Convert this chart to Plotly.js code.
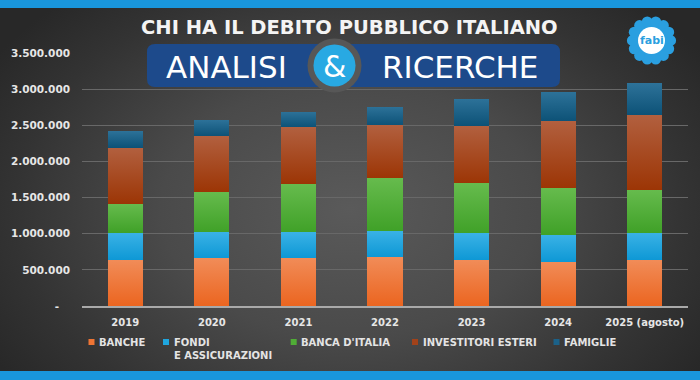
<!DOCTYPE html>
<html>
<head>
<meta charset="utf-8">
<script src="https://cdn.plot.ly/plotly-3.0.1.min.js"></script>
<style>
html,body{margin:0;padding:0;}
body{width:700px;height:380px;overflow:hidden;
background: radial-gradient(ellipse 60% 75% at 50% 55%, #5a5a5a 0%, #4a4a4a 45%, #333 80%, #282828 100%);}
#chart{width:700px;height:380px;}
</style>
</head>
<body>
<div id="chart"></div>
<script>
// ---- DATA ----
const categories = ['2019','2020','2021','2022','2023','2024','2025 (agosto)'];
const banche      = [637000, 660000, 669000, 678000, 637000, 614000, 637000];
const fondi       = [378000, 364000, 351000, 365000, 369000, 373000, 378000];
const bancaItalia = [397000, 554000, 669000, 725000, 692000, 647000, 591000];
const investitori = [779000, 775000, 784000, 733000, 794000, 927000, 1038000];
const famiglie    = [232000, 222000, 217000, 258000, 378000, 402000, 439000];
const seriesNames = ['BANCHE','FONDI<br>E ASSICURAZIONI',"BANCA D'ITALIA",'INVESTITORI ESTERI','FAMIGLIE'];
const yTickVals = [0,500000,1000000,1500000,2000000,2500000,3000000,3500000];
const yTickText = ['-\u00a0\u00a0\u00a0','500.000','1.000.000','1.500.000','2.000.000','2.500.000','3.000.000','3.500.000'];

// ---- STYLE ----
const seriesValues = [banche, fondi, bancaItalia, investitori, famiglie];
const colors = ['#ee7434','#1fa5de','#50ad36','#a2421a','#1b6188'];
const gradTop = ['#f18c58','#3ab2e6','#66bb4d','#b2603f','#2d7299'];
const gradBot = ['#eb6520','#0e98d5','#40a128','#9c3505','#0d5277'];

const W=700,H=380,ML=82,MR=12,MT=53,MB=74;
const PW=W-ML-MR, PH=H-MT-MB;
const X = p => (p-ML)/PW;
const Y = p => (H-MB-p)/PH;

const traces = seriesValues.map((v,i)=>({
  type:'bar', x:categories, y:v, name:seriesNames[i],
  marker:{color:colors[i], line:{width:0}}, hoverinfo:'skip'
}));

const shapes = [];
const annotations = [];
function rect(x0,y0,x1,y1,color){
  shapes.push({type:'rect',xref:'paper',yref:'paper',x0:X(x0),x1:X(x1),y0:Y(y0),y1:Y(y1),
    fillcolor:color,line:{width:0},layer:'above'});
}
function circ(cx,cy,r,color){
  shapes.push({type:'circle',xref:'paper',yref:'paper',x0:X(cx-r),x1:X(cx+r),y0:Y(cy-r),y1:Y(cy+r),
    fillcolor:color,line:{width:0},layer:'above'});
}
function ann(text,x,y,size,color,opts){
  annotations.push(Object.assign({text:text,xref:'paper',yref:'paper',x:X(x),y:Y(y),
    showarrow:false,xanchor:'center',yanchor:'middle',
    font:{family:'DejaVu Sans',size:size,color:color,weight:'bold'}},opts||{}));
}
// blue bands
rect(0,0,700,8,'#1996dc');
rect(0,371,700,380,'#1996dc');
// banner rounded rect
(function(){
  const x0=147,x1=560,y0=44,y1=87,r=8;
  const p = (x,y)=>X(x)+','+Y(y);
  const path = 'M'+p(x0+r,y0)+' L'+p(x1-r,y0)+' Q'+p(x1,y0)+' '+p(x1,y0+r)+
    ' L'+p(x1,y1-r)+' Q'+p(x1,y1)+' '+p(x1-r,y1)+' L'+p(x0+r,y1)+' Q'+p(x0,y1)+' '+p(x0,y1-r)+
    ' L'+p(x0,y0+r)+' Q'+p(x0,y0)+' '+p(x0+r,y0)+' Z';
  shapes.push({type:'path',xref:'paper',yref:'paper',path:path,fillcolor:'#1d4a8b',line:{width:0},layer:'above'});
})();
circ(334.5,65.5,27,'#575757');
circ(334.5,65.5,21,'#28a9e3');
ann('ANALISI',226,67,31,'#ffffff',{font:{family:'DejaVu Sans',size:31,color:'#ffffff',weight:'normal'}});
ann('RICERCHE',460,67,31,'#ffffff',{font:{family:'DejaVu Sans',size:31,color:'#ffffff',weight:'normal'}});
ann('&',334.5,66,30,'#ffffff',{font:{family:'DejaVu Sans',size:30,color:'#ffffff',weight:'normal'}});
// title
ann('CHI HA IL DEBITO PUBBLICO ITALIANO',349.5,28,19.5,'#f4f4f4');
// logo
(function(){
  const cx=651.5, cy=40.5, n=14;
  circ(cx,cy,17,'#2a9fe0');
  for(let k=0;k<n;k++){
    const a=2*Math.PI*k/n;
    circ(cx+19.2*Math.cos(a), cy+19.2*Math.sin(a), 5.4, '#2a9fe0');
  }
  circ(cx,cy,13.5,'#ffffff');
  ann('fabi',cx,cy,11,'#2a9fe0',{font:{family:'DejaVu Sans',size:11,color:'#2a9fe0',weight:'bold'}});
})();
// legend (custom)
const legendX = [88.5,163,290.7,412,553.5];
seriesNames.forEach((nm,i)=>{
  rect(legendX[i],339,legendX[i]+6,345,colors[i]);
  const multi = nm.indexOf('<br>')>=0;
  ann(nm,legendX[i]+8.5,multi?348.5:342,10,'#e4e4e4',{xanchor:'left',align:'left'});
});

const layout = {
  width:W,height:H,
  margin:{l:ML,r:MR,t:MT,b:MB,pad:0},
  paper_bgcolor:'rgba(0,0,0,0)',plot_bgcolor:'rgba(0,0,0,0)',
  barmode:'stack',bargap:0.595,showlegend:false,
  font:{family:'DejaVu Sans',color:'#e6e6e6'},
  xaxis:{type:'category',showgrid:false,showline:true,linecolor:'#a9a9a9',linewidth:2,
    ticks:'',ticklabelstandoff:6,tickfont:{family:'DejaVu Sans',size:10,color:'#e6e6e6',weight:'bold'},
    fixedrange:true,zeroline:false},
  yaxis:{range:[0,3500000],tickvals:yTickVals,ticktext:yTickText,showgrid:true,gridcolor:'#686868',gridwidth:1,
    zeroline:false,showline:false,ticks:'',ticklabelstandoff:11,
    tickfont:{family:'DejaVu Sans',size:10.5,color:'#e6e6e6',weight:'bold'},fixedrange:true},
  shapes:shapes,annotations:annotations
};

Plotly.newPlot('chart',traces,layout,{staticPlot:true,displayModeBar:false}).then(gd=>{
  const svg = gd.querySelector('.main-svg');
  const ns='http://www.w3.org/2000/svg';
  let defs = svg.querySelector('defs');
  if(!defs){defs=document.createElementNS(ns,'defs');svg.insertBefore(defs,svg.firstChild);}
  colors.forEach((c,i)=>{
    const g=document.createElementNS(ns,'linearGradient');
    g.setAttribute('id','barGrad'+i);
    g.setAttribute('x1','0');g.setAttribute('y1','0');g.setAttribute('x2','0');g.setAttribute('y2','1');
    [[0,gradTop[i]],[1,gradBot[i]]].forEach(([o,col])=>{
      const s=document.createElementNS(ns,'stop');
      s.setAttribute('offset',o);s.setAttribute('stop-color',col);g.appendChild(s);
    });
    defs.appendChild(g);
  });
  gd.querySelectorAll('.barlayer .trace').forEach((t,i)=>{
    t.querySelectorAll('path').forEach(p=>{p.style.fill='url(#barGrad'+i+')';});
  });
});
</script>
</body>
</html>
